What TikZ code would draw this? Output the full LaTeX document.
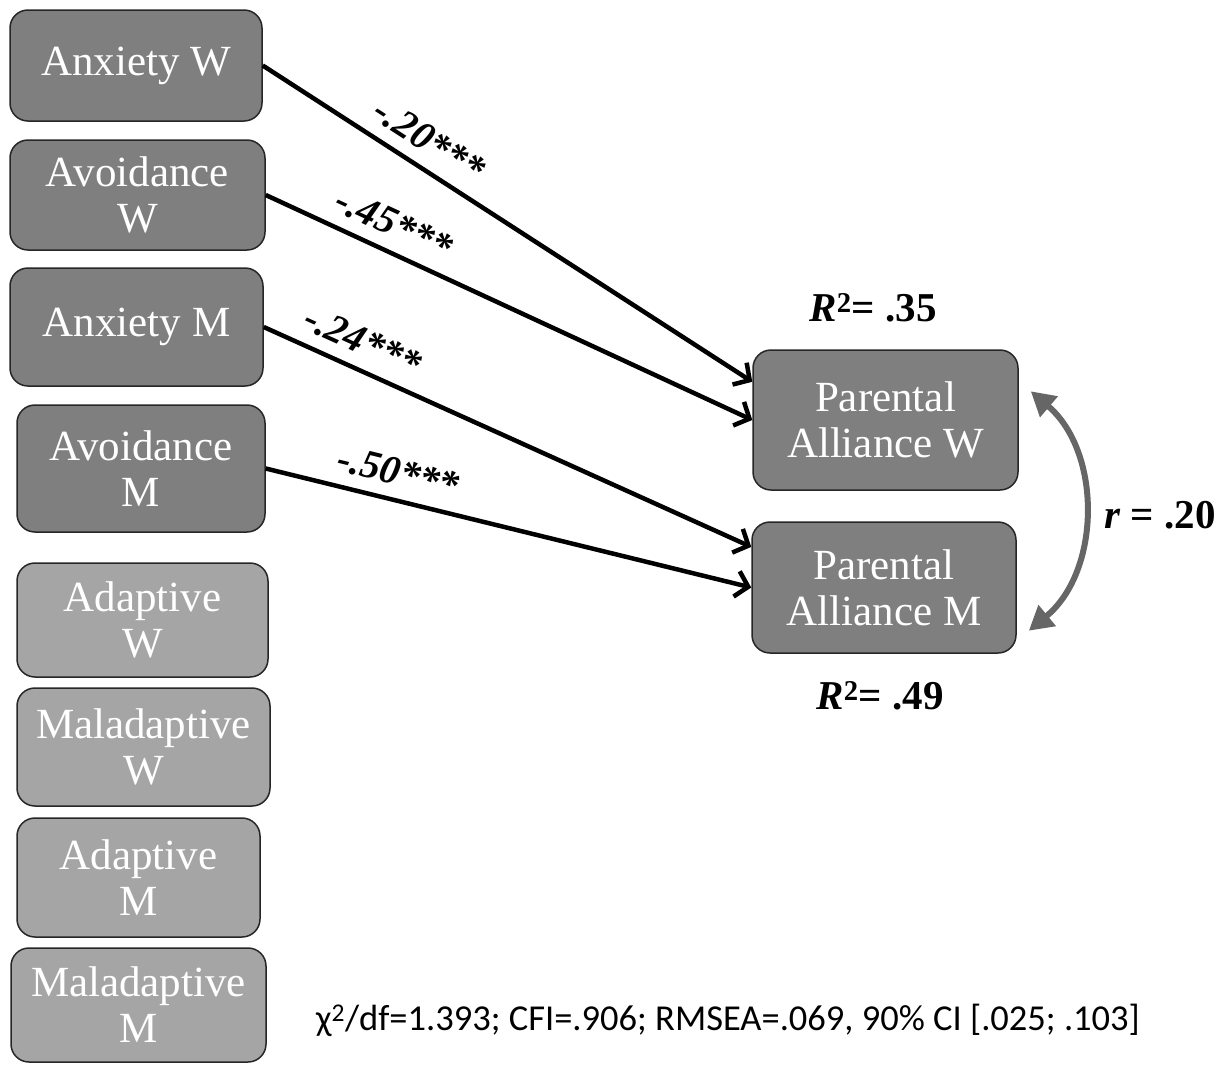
\documentclass[tikz,border=0pt]{standalone}
\usepackage{fontspec}
\setmainfont{Liberation Serif}
\newfontfamily\calib{Carlito}
\usetikzlibrary{arrows.meta,positioning}

\definecolor{darkbox}{RGB}{127,127,127}
\definecolor{lightbox}{RGB}{165,165,165}
\definecolor{corrgray}{RGB}{102,102,102}

\tikzset{
  var/.style={draw=black!85, line width=1.5pt, rounded corners=18pt, fill=darkbox,
    text=white, align=center, inner sep=0pt, font=\fontsize{43}{46}\selectfont},
  cov/.style={var, fill=lightbox},
  effect/.style={line width=4.5pt, -{Straight Barb[length=12pt,width=26pt]}},
  coef/.style={sloped, above=9pt, inner sep=3pt, font=\fontsize{40}{42}\selectfont\bfseries\itshape},
  stat/.style={font=\fontsize{41}{44}\selectfont\bfseries},
  corr/.style={draw=corrgray, line width=6pt,
    {Triangle[length=24pt,width=26pt]}-{Triangle[length=24pt,width=26pt]}}
}

\begin{document}
\begin{tikzpicture}[x=1pt,y=-1pt]
	\useasboundingbox (0,0) rectangle (1223,1066);
	
	% predictors
	\node[var, minimum width=252pt, minimum height=111pt] (anxw) at (136,65.5) {Anxiety W};
	\node[var, minimum width=255pt, minimum height=110pt] (avow) at (137.5,195) {Avoidance\\W};
	\node[var, minimum width=253pt, minimum height=118pt] (anxm) at (136.5,327) {Anxiety M};
	\node[var, minimum width=248pt, minimum height=127pt] (avom) at (141,468.5) {Avoidance\\M};
	
	% covariates
	\node[cov, minimum width=251pt, minimum height=114pt] (adaw) at (142.5,620) {Adaptive\\W};
	\node[cov, minimum width=253pt, minimum height=118pt] (malw) at (143.5,747) {Maladaptive\\W};
	\node[cov, minimum width=243pt, minimum height=119pt] (adam) at (138.5,877.5) {Adaptive\\M};
	\node[cov, minimum width=255pt, minimum height=114pt] (malm) at (138.5,1005) {Maladaptive\\M};
	
	% outcomes
	\node[var, minimum width=265pt, minimum height=140pt] (paw) at (885.5,420) {Parental\\Alliance W};
	\node[var, minimum width=264pt, minimum height=131pt] (pam) at (884,587.5) {Parental\\Alliance M};
	
	\draw[effect] (anxw.east) -- node[coef, pos=0.31] {-.20***} (paw.164);
	\draw[effect] (avow.east) -- node[coef, pos=0.24] {-.45***} (paw.west);
	\draw[effect] (anxm.east) -- node[coef, pos=0.18] {-.24***} (pam.163);
	\draw[effect] (avom.east) -- node[coef, pos=0.26] {-.50***} (pam.west);
	
	\node[stat] (r2w) at (873,308) {\textit{R}\textsuperscript{2}= .35};
	\node[stat] (r2m) at (880,696) {\textit{R}\textsuperscript{2}= .49};
	
	\coordinate (cw) at ([shift={(12,42)}]paw.north east);
	\coordinate (cm) at ([shift={(12,-23)}]pam.south east);
	\draw[corr] (cw) to[bend left=50] (cm);
	\node[stat] (rcor) at (1160,515) {\textit{r} = .20};
	
	\node[font=\calib\fontsize{36.5}{40}\selectfont] (gof) at (728,1020)
	  {χ\textsuperscript{2}/df=1.393; CFI=.906; RMSEA=.069, 90\% CI [.025; .103]};
	
\end{tikzpicture}
\end{document}
